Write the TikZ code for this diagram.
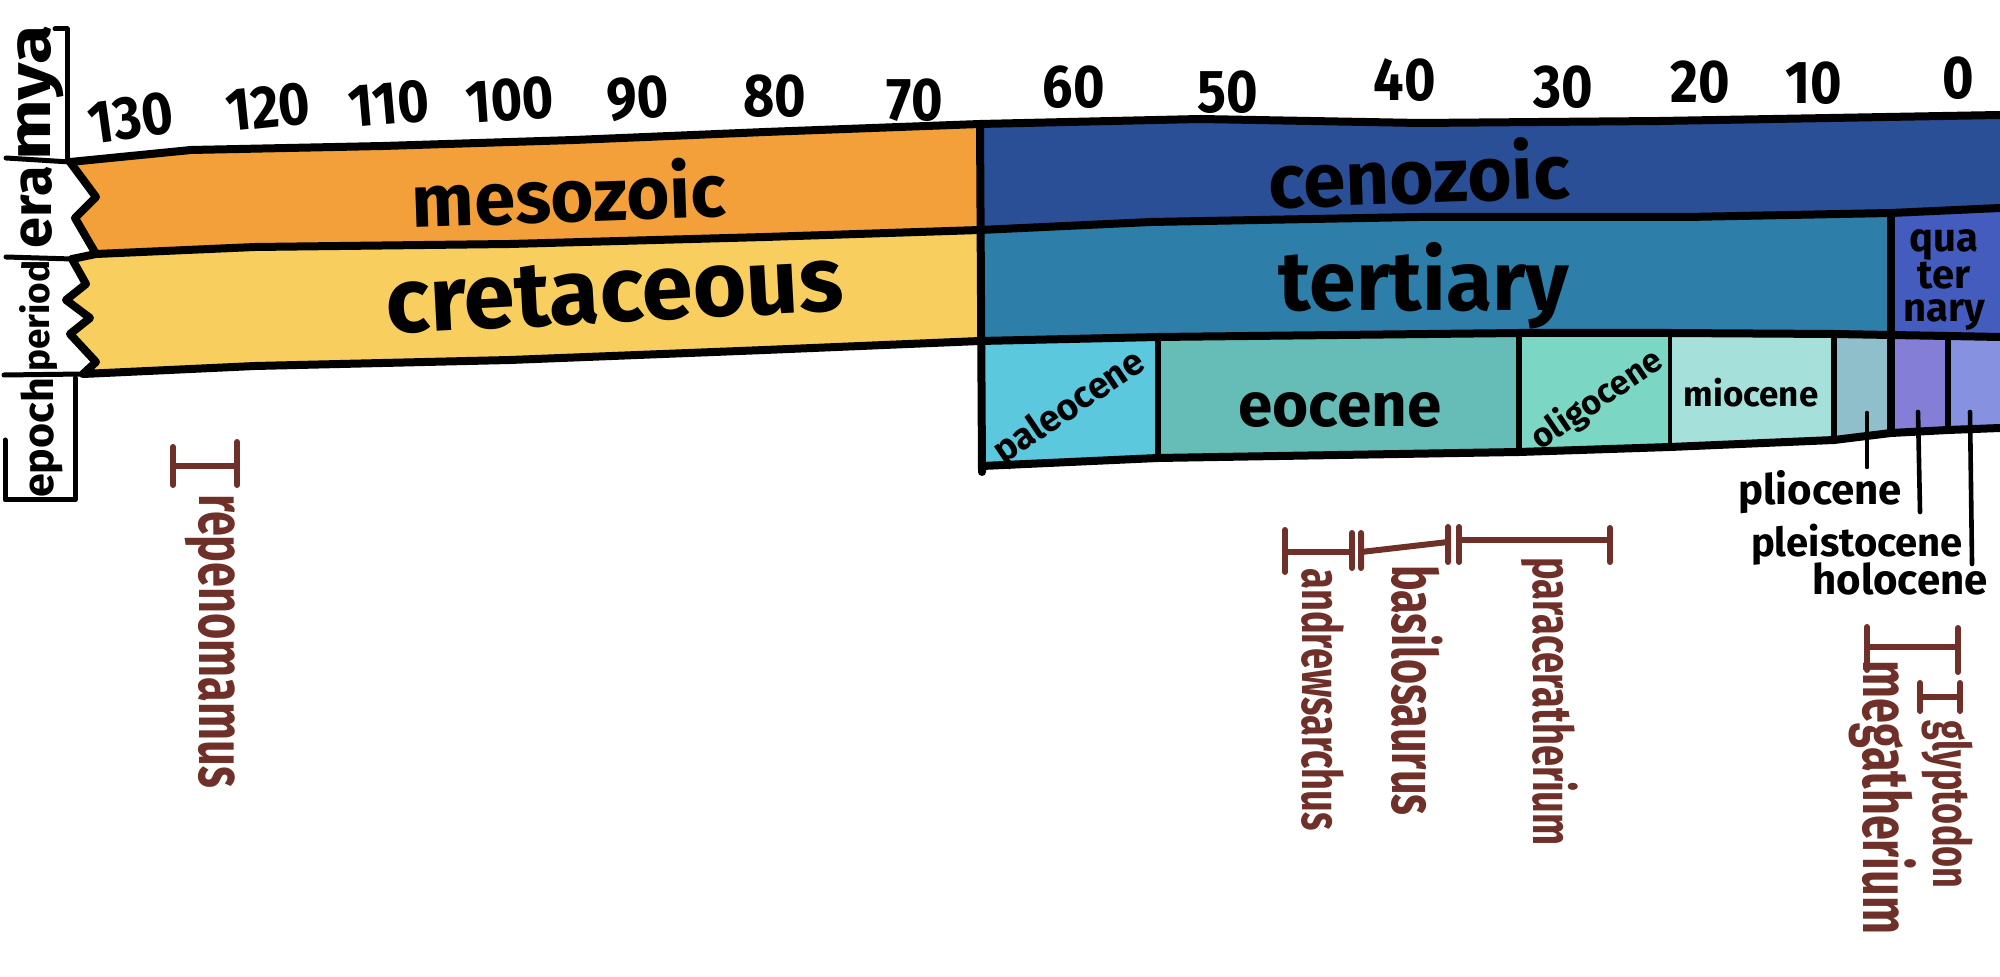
\documentclass[tikz,border=0pt]{standalone}
\usepackage{fontspec}
\setmainfont{Fira Sans}
\usepackage{graphicx}
\definecolor{meso}{HTML}{F4A03A}
\definecolor{creta}{HTML}{F8CF5E}
\definecolor{ceno}{HTML}{2A4F96}
\definecolor{tert}{HTML}{2E7EAA}
\definecolor{quat}{HTML}{435CBE}
\definecolor{paleo}{HTML}{5BC8DE}
\definecolor{eoc}{HTML}{66BCB6}
\definecolor{olig}{HTML}{7BD6C4}
\definecolor{mioc}{HTML}{A6E0DA}
\definecolor{plio}{HTML}{8FBFCB}
\definecolor{pleis}{HTML}{857ED6}
\definecolor{holo}{HTML}{8692E0}
\definecolor{fossil}{HTML}{6E3028}
\newcommand\fsz[1]{\fontsize{#1}{#1}\selectfont\bfseries}
\newcommand\tallb[1]{\scalebox{1}[1.45]{#1}}
\newcommand\talln[1]{\scalebox{1}[1.12]{#1}}
\begin{document}
\begin{tikzpicture}[x=0.5pt,y=-0.5pt,
  outline/.style={line width=4pt,line join=round,line cap=round},
  divider/.style={line width=3pt,line cap=round},
  thindiv/.style={line width=2pt,line cap=round},
  colline/.style={line width=2.5pt,line cap=round,line join=round},
  leader/.style={line width=2.3pt,line cap=round},
  rangebar/.style={draw=fossil,line width=3pt,line cap=round},
  lbl/.style={inner sep=0pt,text=black},
  num/.style={inner sep=0pt,font=\fsz{27}},
  fos/.style={inner sep=0pt,text=fossil,rotate=-90,anchor=base west}]
\useasboundingbox (0,0) rectangle (2000,977);
% ---- fills
\fill[meso] (70,162) -- (191,150) -- (383,146) -- (574,140) -- (765,132) -- (980,124) -- (980,230) -- (765,237) -- (510,244) -- (255,247) -- (96,254) -- (75,218) -- (96,197) -- cycle;
\fill[creta] (96,254) -- (255,247) -- (510,244) -- (765,237) -- (980,230) -- (980,341) -- (765,350) -- (510,360) -- (255,366) -- (83,374) -- (96,362) -- (70,334) -- (90,318) -- (66,300) -- (86,284) -- (72,259) -- cycle;
\fill[ceno] (980,124) -- (1200,119) -- (1420,123) -- (1660,121) -- (2000,115) -- (2000,208) -- (1891,213) -- (1687,217) -- (1419,217) -- (1151,222) -- (980,230) -- cycle;
\fill[tert] (980,230) -- (1151,222) -- (1419,217) -- (1687,217) -- (1891,213) -- (1891,335) -- (1834,334) -- (1670,333) -- (1519,333) -- (1158,337) -- (980,341) -- cycle;
\fill[quat] (1891,213) -- (2000,208) -- (2000,337) -- (1891,335) -- cycle;
\fill[paleo] (980,341) -- (1158,337) -- (1158,458) -- (982,466) -- cycle;
\fill[eoc] (1158,337) -- (1519,333) -- (1519,452) -- (1158,458) -- cycle;
\fill[olig] (1519,333) -- (1670,333) -- (1670,447) -- (1519,452) -- cycle;
\fill[mioc] (1670,333) -- (1834,334) -- (1834,440) -- (1670,447) -- cycle;
\fill[plio] (1834,334) -- (1891,335) -- (1891,433) -- (1834,440) -- cycle;
\fill[pleis] (1891,335) -- (1948,336) -- (1948,430) -- (1891,433) -- cycle;
\fill[holo] (1948,336) -- (2000,337) -- (2000,428) -- (1948,430) -- cycle;
% ---- outlines
\draw[outline] (70,162) -- (191,150) -- (383,146) -- (574,140) -- (765,132) -- (980,124) -- (1200,119) -- (1420,123) -- (1660,121) -- (2000,115);
\draw[outline] (70,162) -- (96,197) -- (75,218) -- (96,254) -- (255,247) -- (510,244) -- (765,237) -- (980,230) -- (1151,222) -- (1419,217) -- (1687,217) -- (1891,213) -- (2000,208);
\draw[outline] (72,259) -- (86,284) -- (66,300) -- (90,318) -- (70,334) -- (96,362) -- (83,374) -- (255,366) -- (510,360) -- (765,350) -- (980,341) -- (1158,337) -- (1519,333) -- (1670,333) -- (1834,334) -- (1891,335) -- (1948,336) -- (2000,337);
\draw[outline] (72,259) -- (96,254);
\draw[outline] (982,466) -- (1158,458) -- (1519,452) -- (1670,447) -- (1834,440) -- (1891,433) -- (1948,430) -- (2000,428);
\draw[outline] (980,124) -- (982,472);
\draw[outline] (1891,213) -- (1891,433);
\draw[divider] (1158,337) -- (1158,458);
\draw[divider] (1519,333) -- (1519,452);
\draw[thindiv] (1670,333) -- (1670,447);
\draw[divider] (1834,334) -- (1834,440);
\draw[divider] (1948,336) -- (1948,430);
% ---- label column
\draw[colline] (55,29) -- (67,29) -- (67,158);
\draw[colline] (6,158) -- (70,162);
\draw[colline] (6,257) -- (72,259);
\draw[colline] (4,375) -- (83,374);
\draw[colline] (75,378) -- (75,500) -- (5,500) -- (5,440);
\node[lbl,rotate=90,anchor=base,font=\fsz{30}] (lmya) at (50,93) {\scalebox{1.2}[1]{mya}};
\node[lbl,rotate=90,anchor=base,font=\fsz{28}] (lera) at (51,207) {era};
\node[lbl,rotate=90,anchor=base,font=\fsz{18.5}] (lperiod) at (49,316) {period};
\node[lbl,rotate=90,anchor=base,font=\fsz{21.5}] (lepoch) at (53,438) {epoch};
% ---- numbers
\node[num,rotate=8] (n130) at (131,118) {\talln{130}};
\node[num,rotate=6] (n120) at (268,107) {\talln{120}};
\node[num,rotate=5] (n110) at (389,104) {\talln{110}};
\node[num,rotate=4] (n100) at (510,100) {\talln{100}};
\node[num,rotate=4] (n90) at (638,98) {\talln{90}};
\node[num] (n80) at (775,96) {\talln{80}};
\node[num] (n70) at (915,100) {\talln{70}};
\node[num] (n60) at (1074,87) {\talln{60}};
\node[num] (n50) at (1228,92) {\talln{50}};
\node[num] (n40) at (1405,80) {\talln{40}};
\node[num] (n30) at (1563,87) {\talln{30}};
\node[num] (n20) at (1700,82) {\talln{20}};
\node[num] (n10) at (1814,83) {\talln{10}};
\node[num] (n0) at (1958,78) {\talln{0}};
% ---- band labels
\node[lbl,anchor=base,rotate=2,font=\fsz{37}] (mesozoic) at (570,222) {mesozoic};
\node[lbl,anchor=base,rotate=3,font=\fsz{46}] (cretaceous) at (616,322) {cretaceous};
\node[lbl,anchor=base,rotate=2,font=\fsz{38}] (cenozoic) at (1420,203) {cenozoic};
\node[lbl,anchor=base,font=\fsz{42}] (tertiary) at (1424,311) {tertiary};
\node[lbl,align=center,font=\fontsize{20}{16.5}\selectfont\bfseries] (quaternary) at (1944,280) {qua\\ter\\nary};
\node[lbl,rotate=34,font=\fsz{18.5}] (paleocene) at (1070,408) {paleocene};
\node[lbl,anchor=base,font=\fsz{31}] (eocene) at (1340,427) {eocene};
\node[lbl,rotate=34,font=\fsz{17}] (oligocene) at (1597,400) {oligocene};
\node[lbl,anchor=base,font=\fsz{17.5}] (miocene) at (1751,407) {miocene};
% ---- short epochs with leaders
\coordinate (plioA) at (1867,413);
\coordinate (plioB) at (1867,467);
\coordinate (pleiA) at (1918,412);
\coordinate (pleiB) at (1920,512);
\coordinate (holoA) at (1970,412);
\coordinate (holoB) at (1972,564);
\draw[leader] (plioA) -- (plioB);
\draw[leader] (pleiA) -- (pleiB);
\draw[leader] (holoA) -- (holoB);
\node[lbl,anchor=base,font=\fsz{21}] (pliocene) at (1820,505) {pliocene};
\node[lbl,anchor=base,font=\fsz{20}] (pleistocene) at (1857,557) {pleistocene};
\node[lbl,anchor=base,font=\fsz{21}] (holocene) at (1900,595) {holocene};
% ---- fossil ranges
\draw[rangebar] (173,466) -- (237,466) (173,447) -- (173,485) (237,442) -- (237,485);
\draw[rangebar] (1285,552) -- (1352,552) (1285,530) -- (1285,572) (1352,533) -- (1352,568);
\draw[rangebar] (1361,552) -- (1448,542) (1361,533) -- (1361,568) (1448,527) -- (1448,562);
\draw[rangebar] (1459,540) -- (1610,540) (1459,527) -- (1459,562) (1610,528) -- (1610,562);
\draw[rangebar] (1867,647) -- (1958,647) (1867,627) -- (1867,670) (1958,628) -- (1958,672);
\draw[rangebar] (1920,697) -- (1960,697) (1920,683) -- (1920,711) (1960,683) -- (1960,711);
\node[fos,font=\fsz{22.5}] (repenomamus) at (199,494) {\tallb{repenomamus}};
\node[fos,font=\fsz{19}] (andrewsarchus) at (1302,568) {\tallb{andrewsarchus}};
\node[fos,font=\fsz{21.5}] (basilosaurus) at (1392,565) {\tallb{basilosaurus}};
\node[fos,font=\fsz{19}] (paraceratherium) at (1533,557) {\tallb{paraceratherium}};
\node[fos,font=\fsz{22.5}] (megatherium) at (1863,660) {\tallb{megatherium}};
\node[fos,font=\fsz{18}] (glyptodon) at (1933,720) {\tallb{glyptodon}};
\end{tikzpicture}
\end{document}
